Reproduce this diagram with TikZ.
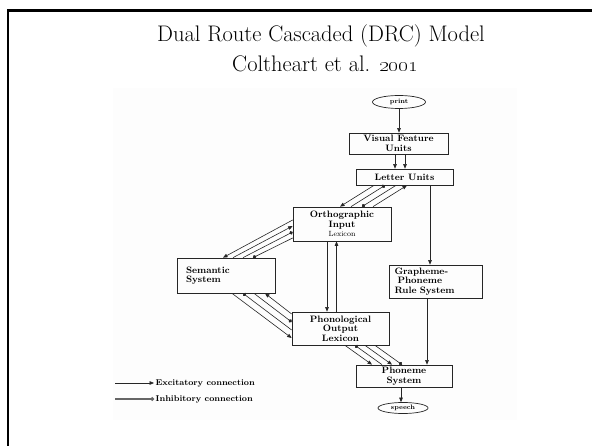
\documentclass[tikz,border=0pt]{standalone}
\usetikzlibrary{arrows.meta,shapes.geometric}
\begin{document}
\begin{tikzpicture}[
  x=1pt, y=-1pt,
  unit/.style={draw=black!85, line width=0.7pt, align=center, inner sep=1pt, font=\fontsize{9.3}{9.6}\selectfont\bfseries},
  oval/.style={draw=black!85, line width=0.7pt, ellipse, inner sep=0pt, font=\fontsize{6.5}{7}\selectfont\bfseries},
  exc/.style={draw=black!85, line width=0.6pt, -{Triangle[length=4.5pt,width=3.6pt]}},
  inh/.style={draw=black!85, line width=0.6pt, -{Circle[length=3.6pt]}},
  legend/.style={font=\fontsize{8.4}{9}\selectfont\bfseries, inner sep=1.5pt},
  heading/.style={font=\fontsize{22.5}{25}\selectfont, inner sep=0pt}
]
\useasboundingbox (0,0) rectangle (592,446);
\fill[black!0.8] (113,88) rectangle (517,420);
\draw[line width=2.5pt] (8,446) -- (8,10.5) -- (592,10.5);

\node[heading] (title) at (321,36) {Dual Route Cascaded (DRC) Model};
\node[heading] (cite) at (325,64) {Coltheart et al. \oldstylenums{2001}};

% boxes
\node[oval, minimum width=53pt, minimum height=13pt] (print) at (399,102) {print};
\node[unit, minimum width=99pt, minimum height=21pt] (vfu) at (398.5,143.5) {Visual Feature\\Units};
\node[unit, minimum width=97pt, minimum height=16pt] (lu) at (404.5,177) {Letter Units};
\node[unit, minimum width=98pt, minimum height=34pt] (oil) at (342,224) {Orthographic\\Input\\{\mdseries\fontsize{7.5}{8}\selectfont Lexicon}};
\node[unit, minimum width=98pt, minimum height=35pt, text width=80pt, align=left, inner xsep=9pt] (sem) at (226,275.5) {Semantic\\System};
\node[unit, minimum width=93pt, minimum height=33pt, text width=82pt, align=left, inner xsep=5.5pt] (gpc) at (435.5,281.5) {Grapheme-\\\ Phoneme\\Rule System};
\node[unit, minimum width=97pt, minimum height=33pt] (pol) at (340.5,328.5) {Phonological\\Output\\Lexicon};
\node[unit, minimum width=96pt, minimum height=22pt] (phon) at (404,376) {Phoneme\\System};
\node[oval, minimum width=50pt, minimum height=11pt] (speech) at (403,408) {speech};

% vertical routes
\draw[exc] (print.south) -- (print.south |- vfu.north);
\draw[exc] ([xshift=-3.5pt]vfu.south) -- ([xshift=-3.5pt]vfu.south |- lu.north);
\draw[exc] ([xshift=6.5pt]vfu.south) -- ([xshift=6.5pt]vfu.south |- lu.north);
\draw[exc] ([xshift=25.5pt]lu.south) -- ([xshift=25.5pt]lu.south |- gpc.north);
\draw[exc] ([xshift=-8.5pt]gpc.south) -- ([xshift=-8.5pt]gpc.south |- phon.north);
\draw[exc] ([xshift=-3pt]phon.south) -- ([xshift=-3pt]phon.south |- speech.north);
\draw[exc] ([xshift=-15pt]oil.south) -- ([xshift=-15pt]oil.south |- pol.north);
\draw[exc] ([xshift=-4pt]pol.north) -- ([xshift=-4pt]pol.north |- oil.south);

% letter units <-> orthographic lexicon
\draw[exc] ([xshift=-30.5pt]lu.south) -- ([xshift=-2pt]oil.north);
\draw[inh] ([xshift=9pt]oil.north) -- ([xshift=-19.5pt]lu.south);
\draw[inh] ([xshift=-8.5pt]lu.south) -- ([xshift=20pt]oil.north);
\draw[exc] ([xshift=31pt]oil.north) -- ([xshift=2.5pt]lu.south);

% orthographic lexicon <-> semantic system
\draw[exc] ([yshift=4pt]oil.west) -- ([xshift=-3pt]sem.north);
\draw[exc] ([xshift=7pt]sem.north) -- ([yshift=-2pt]oil.west);
\draw[inh] ([xshift=17pt]sem.north) -- ([yshift=-8pt]oil.west);
\draw[inh] ([yshift=-14pt]oil.west) -- ([xshift=27pt]sem.north);

% semantic system <-> phonological lexicon
\draw[exc] ([xshift=6pt]sem.south) -- ([yshift=-9.5pt]pol.west);
\draw[inh] ([yshift=-1.5pt]pol.west) -- ([xshift=17pt]sem.south);
\draw[inh] ([xshift=28pt]sem.south) -- ([yshift=6.5pt]pol.west);
\draw[exc] ([yshift=14.5pt]pol.west) -- ([xshift=39pt]sem.south);

% phonological lexicon <-> phoneme system
\draw[exc] ([xshift=4.5pt]pol.south) -- ([xshift=-32pt]phon.north);
\draw[inh] ([xshift=-22pt]phon.north) -- ([xshift=14.5pt]pol.south);
\draw[exc] ([xshift=24.5pt]pol.south) -- ([xshift=-12pt]phon.north);
\draw[inh] ([xshift=34.5pt]pol.south) -- ([xshift=-2pt]phon.north);

% key
\coordinate (excfrom) at (115,383);
\coordinate (inhfrom) at (115,399);
\node[legend, anchor=west] (exckey) at (154,383) {Excitatory connection};
\node[legend, anchor=west] (inhkey) at (154,399) {Inhibitory connection};
\draw[exc] (excfrom) -- (exckey.west);
\draw[inh, line width=1.3pt, draw=black!60] (inhfrom) -- (inhkey.west);
\end{tikzpicture}
\end{document}
